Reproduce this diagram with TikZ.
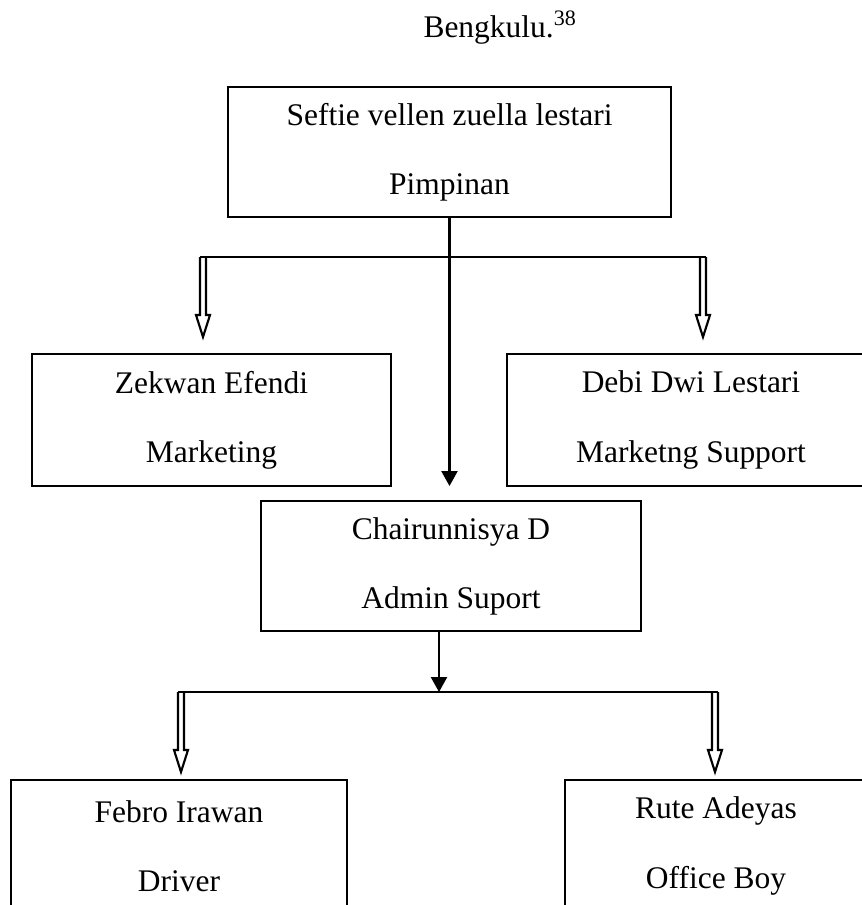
\documentclass[tikz,border=0pt]{standalone}
\usepackage{fontspec}
\setmainfont{Liberation Serif}
\usepackage{tikz}
\usetikzlibrary{arrows.meta,calc}

\begin{document}
\begin{tikzpicture}[
    x=0.375pt, y=-0.375pt,
    every node/.style={font=\fontsize{11.8pt}{25.9pt}\selectfont},
    role/.style={rectangle, draw, line width=0.8pt, inner sep=0pt,
                 align=center, minimum height={#1*0.375pt}},
    role/.default=132,
    wide/.style={minimum width={#1*0.375pt}},
    arr/.style={-{Triangle[length=5.6pt, width=6pt]}, line width=0.8pt},
    bus/.style={line width=0.8pt},
    hollow/.style={line width=0.8pt, to path={
        ($(\tikztostart)+(-3,0)$) -- ($(\tikztotarget)+(-3,-22)$) -- ++(-4,0)
        -- (\tikztotarget) -- ++(7,-22) -- ++(-4,0) -- ($(\tikztostart)+(3,0)$)}},
]
\useasboundingbox (0,0) rectangle (862,905);

% Nodes
\node[anchor=base west, inner sep=0pt] (place) at (423,37) {Bengkulu.\textsuperscript{38}};
\node[role=130, wide=443] (lead)   at (449.5,152) {Seftie vellen zuella lestari\\Pimpinan};
\node[role, wide=359]     (mkt)    at (211.5,420) {Zekwan Efendi\\Marketing};
\node[role, wide=368]     (mktsup) at (691,420)   {Debi Dwi Lestari\\Marketng Support};
\node[role=130, wide=380] (admin)  at (451,566)   {Chairunnisya D\\Admin Suport};
\node[role, wide=336]     (driver) at (179,846)   {Febro Irawan\\Driver};
\node[role, wide=302]     (ob)     at (716,846)   {Rute Adeyas\\Office Boy};

% Junctions
\coordinate (busA1) at (203,257);
\coordinate (busA2) at (703,257);
\coordinate (tipA1) at (203,337);
\coordinate (tipA2) at (703,337);
\coordinate (adminIn) at (449.5,486);
\coordinate (busB0) at (439,692);
\coordinate (busB1) at (181,692);
\coordinate (busB2) at (715,692);
\coordinate (tipB1) at (181,772);
\coordinate (tipB2) at (715,772);

% Arrows
\draw[bus] ($(busA1)+(-3,0)$) -- ($(busA2)+(3,0)$);
\draw[hollow] (busA1) to (tipA1);
\draw[hollow] (busA2) to (tipA2);
\draw[arr] (lead.south) -- (adminIn);
\draw[arr] (admin.south -| busB0) -- (busB0);
\draw[bus] ($(busB1)+(-3,0)$) -- ($(busB2)+(3,0)$);
\draw[hollow] (busB1) to (tipB1);
\draw[hollow] (busB2) to (tipB2);

\end{tikzpicture}
\end{document}
